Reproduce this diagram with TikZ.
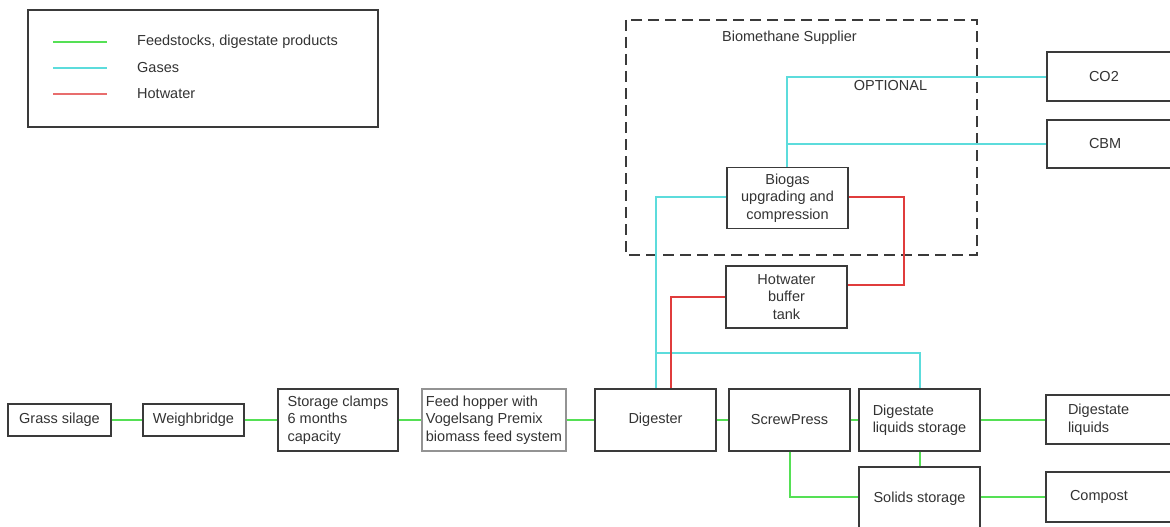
\documentclass[tikz,border=0pt]{standalone}
\usepackage{fontspec}
\setmainfont{Liberation Sans}
\definecolor{txt}{HTML}{333333}
\definecolor{edge}{HTML}{3A3A3A}
\definecolor{feedc}{HTML}{55E055}
\definecolor{gasc}{HTML}{5CDCDC}
\definecolor{hotc}{HTML}{E03C3C}
\begin{document}
\begin{tikzpicture}[x=1pt,y=-1pt,
  box/.style={draw=edge, line width=1.3pt, text=txt, inner sep=0pt, align=center,
    font=\fontsize{14.5}{17.5}\selectfont},
  lbox/.style={box, align=left},
  feed/.style={draw=feedc, line width=1.8pt},
  gas/.style={draw=gasc, line width=1.8pt},
  hot/.style={draw=hotc, line width=1.8pt},
  lab/.style={text=txt, inner sep=0pt, font=\fontsize{14.5}{17.5}\selectfont}]
\useasboundingbox (0,0) rectangle (1170,527);
\fill[white] (0,0) rectangle (1170,527);

% legend
\draw[edge, line width=1.3pt] (28,10) rectangle (378,127);
\coordinate (l1a) at (53,42); \coordinate (l1b) at (107,42);
\coordinate (l2a) at (53,68); \coordinate (l2b) at (107,68);
\coordinate (l3a) at (53,94); \coordinate (l3b) at (107,94);
\draw[feed] (l1a) -- (l1b);
\draw[gas] (l2a) -- (l2b);
\draw[hot, draw=hotc!75] (l3a) -- (l3b);
\node[lab, anchor=west] (t1) at (137,42) {Feedstocks, digestate products};
\node[lab, anchor=west] (t2) at (137,68) {Gases};
\node[lab, anchor=west] (t3) at (137,94) {Hotwater};

% dashed supplier box
\draw[edge, line width=1.3pt, dash pattern=on 11pt off 6pt] (626,20) rectangle (977,255);
\node[lab] (sup) at (789.5,38) {Biomethane Supplier};
\node[lab] (opt) at (890.5,86) {OPTIONAL};

% top nodes
\node[box, minimum width=121pt, minimum height=61pt] (bio) at (787.5,198) {Biogas\\upgrading and\\compression};
\node[box, minimum width=121pt, minimum height=62pt] (hotw) at (786.5,297) {Hotwater\\buffer\\tank};
\node[lbox, text width=48pt, inner xsep=42pt, minimum height=49pt] (co2) at (1113,76.5) {CO2};
\node[lbox, text width=48pt, inner xsep=42pt, minimum height=48pt] (cbm) at (1113,144) {CBM};

% bottom row
\node[box, minimum width=103pt, minimum height=32pt] (grass) at (59.5,420) {Grass silage};
\node[box, minimum width=101pt, minimum height=32pt] (weigh) at (193.5,420) {Weighbridge};
\node[lbox, minimum width=120pt, minimum height=62pt] (clamps) at (338,420) {Storage clamps\\6 months\\capacity};
\node[lbox, draw=edge!55, minimum width=144pt, minimum height=62pt] (hopper) at (494,420) {Feed hopper with\\Vogelsang Premix\\biomass feed system};
\node[box, minimum width=121pt, minimum height=62pt] (dig) at (655.5,420) {Digester};
\node[box, minimum width=121pt, minimum height=62pt] (screw) at (789.5,420) {ScrewPress};
\node[lbox, minimum width=121pt, minimum height=62pt] (dls) at (919.5,420) {Digestate\\liquids storage};
\node[box, minimum width=121pt, minimum height=64pt] (solids) at (919.5,499) {Solids storage};
\node[lbox, text width=90pt, inner xsep=22pt, minimum height=49pt] (dliq) at (1113,419.5) {Digestate\\liquids};
\node[lbox, text width=84pt, inner xsep=24pt, minimum height=50pt] (comp) at (1112,497) {Compost};

% feedstock connectors
\draw[feed] (grass.east) -- (weigh.west);
\draw[feed] (weigh.east) -- (clamps.west |- weigh.east);
\draw[feed] (clamps.east) -- (hopper.west);
\draw[feed] (hopper.east) -- (dig.west);
\draw[feed] (dig.east) -- (screw.west);
\draw[feed] (screw.east) -- (dls.west);
\draw[feed] (dls.east) -- (dliq.west |- dls.east);
\coordinate (ds) at (920,460);
\draw[feed] (dls.south -| ds) -- (solids.north -| ds);
\coordinate (sc) at (790,497);
\draw[feed] (screw.south -| sc) -- (sc) -- (solids.west |- sc);
\draw[feed] (solids.east |- comp.west) -- (comp.west);

% gas connectors
\coordinate (gj) at (787,77);
\coordinate (gk) at (787,144);
\draw[gas] (bio.north -| gj) -- (gj) -- (co2.west |- gj);
\draw[gas] (gk) -- (cbm.west |- gk);
\coordinate (gl) at (656,197);
\draw[gas] (bio.west |- gl) -- (gl) -- (dig.north -| gl);
\coordinate (gb) at (656,353);
\coordinate (gc) at (920,353);
\draw[gas] (gb) -- (gc) -- (dls.north -| gc);

% hot water connectors
\coordinate (rt) at (904,197);
\coordinate (rr) at (904,285);
\draw[hot] (bio.east |- rt) -- (rt) -- (rr) -- (hotw.east |- rr);
\coordinate (rl) at (671,297);
\draw[hot] (hotw.west |- rl) -- (rl) -- (dig.north -| rl);
\end{tikzpicture}
\end{document}
